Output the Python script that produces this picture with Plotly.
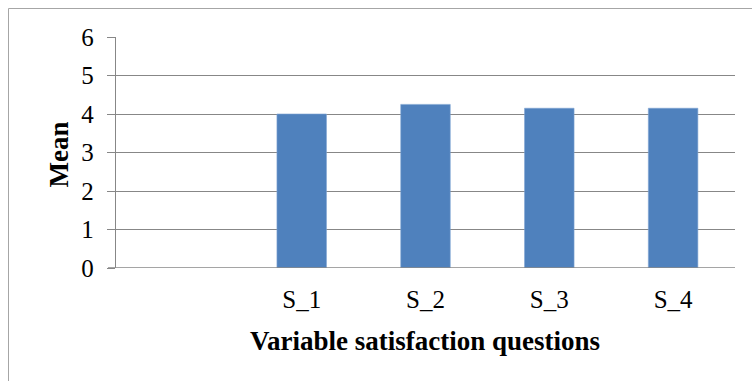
import plotly.graph_objects as go

# Mean score per satisfaction question (first slot left empty on the axis)
categories = ["", "S_1", "S_2", "S_3", "S_4"]
means = [None, 4.0, 4.25, 4.15, 4.15]
y_ticks = [0, 1, 2, 3, 4, 5, 6]

x_pos = list(range(len(categories)))

W, H = 752, 381
ML, MR, MT, MB = 116, 17, 37, 113
pw, ph = W - ML - MR, H - MT - MB


def px_x(p):
    return (p - ML) / pw


def px_y(p):
    return (H - MB - p) / ph


fig = go.Figure(
    go.Bar(
        x=x_pos,
        y=means,
        width=0.4,
        marker=dict(color="#4f81bd", line=dict(color="#7ea3d1", width=0.6)),
    )
)

font = "Liberation Serif"
grid = "#878787"

fig.update_layout(
    width=W,
    height=H,
    margin=dict(l=ML, r=MR, t=MT, b=MB),
    paper_bgcolor="white",
    plot_bgcolor="white",
    showlegend=False,
    font=dict(family=font, color="black", size=24),
    xaxis=dict(
        range=[-0.5, len(categories) - 0.5],
        tickvals=x_pos,
        ticktext=categories,
        showgrid=False,
        zeroline=False,
        showline=False,
        ticks="",
        ticklabelstandoff=14,
        tickfont=dict(family=font, size=25),
    ),
    yaxis=dict(
        range=[0, 6],
        tickvals=y_ticks,
        showgrid=True,
        gridcolor=grid,
        gridwidth=1.4,
        zeroline=False,
        showline=True,
        linecolor=grid,
        linewidth=1.4,
        ticks="outside",
        ticklen=8,
        tickwidth=1.4,
        tickcolor=grid,
        ticklabelstandoff=8,
        tickfont=dict(family=font, size=25),
    ),
    annotations=[
        dict(
            text="<b>Mean</b>", textangle=-90,
            x=px_x(58.5), y=px_y(155), xref="paper", yref="paper",
            xanchor="center", yanchor="middle",
            showarrow=False, font=dict(family=font, size=27),
        ),
        dict(
            text="<b>Variable satisfaction questions</b>",
            x=px_x(425), y=px_y(341), xref="paper", yref="paper",
            xanchor="center", yanchor="middle",
            showarrow=False, font=dict(family=font, size=27),
        ),
    ],
    shapes=[
        # chart frame (left and top edges)
        dict(type="line", xref="paper", yref="paper",
             x0=px_x(8.5), x1=px_x(8.5), y0=px_y(400), y1=px_y(8.5),
             line=dict(color="#a6a6a6", width=1)),
        dict(type="line", xref="paper", yref="paper",
             x0=px_x(8.5), x1=px_x(770), y0=px_y(8.5), y1=px_y(8.5),
             line=dict(color="#a6a6a6", width=1)),
        # category axis baseline
        dict(type="line", xref="paper", yref="y",
             x0=px_x(108), x1=1, y0=0, y1=0,
             line=dict(color=grid, width=1.4)),
    ],
)

fig.write_html("out.html")
